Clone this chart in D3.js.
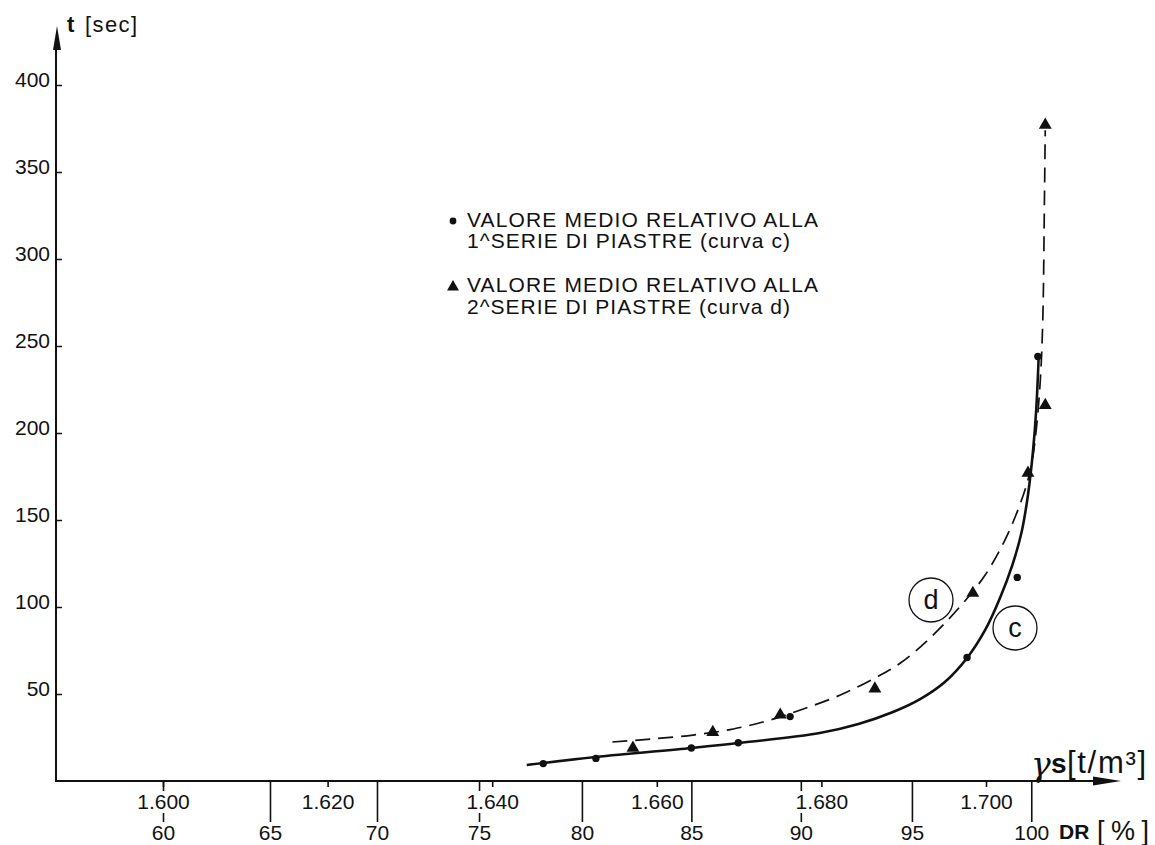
<!DOCTYPE html>
<html>
<head>
<meta charset="utf-8">
<script src="https://cdn.jsdelivr.net/npm/d3@7"></script>
<style>
  html, body { margin: 0; padding: 0; background: #fff; }
  svg { display: block; font-family: "Liberation Sans", Arial, Helvetica, sans-serif; }
</style>
</head>
<body>
<svg id="chart" width="1155" height="845"></svg>
<script>
// Unit weight ticks, γs [t/m³]
const gammaTicks = [1.600, 1.620, 1.640, 1.660, 1.680, 1.700];
// Relative density ticks DR [%] and the unit weight each one corresponds to
const drTicks = [60, 65, 70, 75, 80, 85, 90, 95, 100];
const drGamma = [1.6000, 1.6130, 1.6260, 1.6384, 1.6509, 1.6642, 1.6775, 1.6910, 1.7055];
// Time ticks, t [sec]
const tTicks = [50, 100, 150, 200, 250, 300, 350, 400];

// Mean values, 1st series of plates (curve c)
const cGamma = [1.6462, 1.6526, 1.6642, 1.6699, 1.6762, 1.6977, 1.7038, 1.7063];
const cTime  = [10, 13, 19, 22, 37, 71, 117, 244];
// Mean values, 2nd series of plates (curve d)
const dGamma = [1.6571, 1.6668, 1.6750, 1.6865, 1.6984, 1.7051, 1.7072, 1.7072];
const dTime  = [19, 28, 38, 53, 108, 177, 216, 377];

// Fitted curve c (solid)
const cCurveGamma = [1.6442, 1.6526, 1.6642, 1.6699, 1.6798, 1.6845, 1.6887, 1.6920, 1.6950, 1.6977, 1.6999, 1.7017, 1.7032, 1.7043, 1.7051, 1.7057, 1.7061, 1.7064];
const cCurveTime  = [9.2, 13.8, 19, 21.8, 27.6, 32.8, 39.7, 47.1, 56.9, 70.7, 86.8, 105.2, 124.1, 142.5, 164.4, 189.1, 213.2, 243.7];
// Fitted curve d (dashed)
const dCurveGamma = [1.6546, 1.6592, 1.6644, 1.6693, 1.6738, 1.6778, 1.6823, 1.6865, 1.6896, 1.6932, 1.6968, 1.6999, 1.7023, 1.7041, 1.7054, 1.7061, 1.7066, 1.7069, 1.7071, 1.7072];
const dCurveTime  = [22.4, 24.1, 26.4, 29.9, 35.1, 41.4, 49.4, 59.2, 67.8, 82.2, 100, 118.4, 138.5, 158.6, 178.7, 201.7, 230.5, 264.9, 333.9, 374];

const svg = d3.select("#chart");

const X0 = 56, Y0 = 781;
const x = d3.scaleLinear().domain([1.6, 1.7]).range([163, 986]);
const y = d3.scaleLinear().domain([0, 400]).range([Y0, 85]);
const dr = d3.scaleLinear().domain(drTicks).range(drGamma.map(x));

const ink = "#111";

// DR [%] scale below the unit weight scale
const drAxis = svg.append("g")
  .attr("transform", `translate(0,${Y0})`)
  .call(d3.axisBottom(dr).tickValues(drTicks).tickSize(41).tickFormat(d3.format("d")));
drAxis.select(".domain").remove();
drAxis.selectAll(".tick line").attr("stroke", ink).attr("stroke-width", 1.6);
drAxis.selectAll(".tick text")
  .attr("y", 59).attr("dy", 0)
  .attr("fill", ink).attr("font-size", 21)
  .attr("font-family", "Liberation Sans, Arial, sans-serif");

// Unit weight scale
const gAxis = svg.append("g")
  .attr("transform", `translate(0,${Y0})`)
  .call(d3.axisBottom(x).tickValues(gammaTicks).tickSize(6).tickFormat(d3.format(".3f")));
gAxis.select(".domain").remove();
gAxis.selectAll(".tick line").attr("stroke", ink).attr("stroke-width", 1.6);
gAxis.selectAll(".tick text")
  .attr("y", 28).attr("dy", 0)
  .attr("fill", ink).attr("font-size", 21)
  .attr("font-family", "Liberation Sans, Arial, sans-serif");
// white backing so the DR ticks break around the labels
gAxis.selectAll(".tick").each(function () {
  const t = d3.select(this).select("text");
  const b = t.node().getBBox();
  d3.select(this).insert("rect", "text")
    .attr("x", b.x - 1).attr("y", b.y + 1)
    .attr("width", b.width + 2).attr("height", b.height - 1)
    .attr("fill", "#fff");
});

// Time axis ticks
const yAxis = svg.append("g")
  .attr("transform", `translate(${X0},0)`)
  .call(d3.axisLeft(y).tickValues(tTicks).tickSize(-6).tickPadding(6));
yAxis.select(".domain").remove();
yAxis.selectAll(".tick line").attr("stroke", ink).attr("stroke-width", 1.5);
yAxis.selectAll(".tick text")
  .attr("dy", "0.08em")
  .attr("fill", ink).attr("font-size", 21)
  .attr("font-family", "Liberation Sans, Arial, sans-serif");

// Axis lines with arrow heads
svg.append("line").attr("x1", X0).attr("y1", Y0 + 1).attr("x2", X0).attr("y2", 40)
  .attr("stroke", ink).attr("stroke-width", 2);
svg.append("path").attr("d", `M${X0 + 1},26 L${X0 + 5},50 L${X0 - 3},50 Z`).attr("fill", ink);
svg.append("line").attr("x1", X0 - 1).attr("y1", Y0).attr("x2", 1100).attr("y2", Y0)
  .attr("stroke", ink).attr("stroke-width", 2);
svg.append("path").attr("d", `M1093,${Y0 - 4.5} L1121,${Y0} L1093,${Y0 + 4.5} Z`).attr("fill", ink);

// Axis titles
const tTitle = svg.append("text").attr("x", 67).attr("y", 32).attr("fill", ink);
tTitle.append("tspan").attr("font-size", 22).attr("font-weight", "bold").text("t");
tTitle.append("tspan").attr("x", 85).attr("font-size", 22).attr("textLength", 52).attr("lengthAdjust", "spacing").text("[sec]");

svg.append("text").attr("x", 1031).attr("y", 776).attr("fill", ink)
  .attr("font-size", 33).attr("font-family", "DejaVu Serif, serif").attr("font-style", "italic").text("γ");
svg.append("text").attr("x", 1051).attr("y", 773).attr("fill", ink)
  .attr("font-size", 28).attr("font-weight", "bold").text("s");
svg.append("text").attr("x", 1067).attr("y", 773).attr("fill", ink)
  .attr("font-size", 31).attr("textLength", 79).attr("lengthAdjust", "spacing").text("[t/m³]");

svg.append("text").attr("x", 1059).attr("y", 839).attr("fill", ink)
  .attr("font-size", 21).attr("font-weight", "bold").text("DR");
svg.append("text").attr("x", 1097).attr("y", 840).attr("fill", ink)
  .attr("font-size", 27).attr("textLength", 52).attr("lengthAdjust", "spacing").text("[ % ]");

// Curves
const line = d3.line().x(d => x(d[0])).y(d => y(d[1])).curve(d3.curveCatmullRom.alpha(0.5));
svg.append("path")
  .datum(d3.zip(cCurveGamma, cCurveTime))
  .attr("d", line).attr("fill", "none").attr("stroke", ink).attr("stroke-width", 2.6);
svg.append("path")
  .datum(d3.zip(dCurveGamma, dCurveTime))
  .attr("d", line).attr("fill", "none").attr("stroke", ink).attr("stroke-width", 1.7)
  .attr("stroke-dasharray", "15,8");

// Markers
svg.append("g").selectAll("circle")
  .data(d3.zip(cGamma, cTime)).join("circle")
  .attr("cx", d => x(d[0])).attr("cy", d => y(d[1])).attr("r", 3.7).attr("fill", ink);
const tri = d3.symbol().type(d3.symbolTriangle).size(72);
svg.append("g").selectAll("path")
  .data(d3.zip(dGamma, dTime)).join("path")
  .attr("d", tri).attr("transform", d => `translate(${x(d[0])},${y(d[1])})`).attr("fill", ink);

// Curve labels
const tags = [["d", 931, 600], ["c", 1015, 628]];
tags.forEach(([s, cx, cy]) => {
  svg.append("circle").attr("cx", cx).attr("cy", cy).attr("r", 22)
    .attr("fill", "#fff").attr("stroke", ink).attr("stroke-width", 1.3);
  svg.append("text").attr("x", cx).attr("y", cy + 9).attr("text-anchor", "middle")
    .attr("font-size", 27).attr("fill", ink).text(s);
});

// Legend
const legend = svg.append("g").attr("fill", ink).attr("font-size", 21);
legend.append("circle").attr("cx", 453).attr("cy", 221).attr("r", 3.4);
legend.append("path").attr("d", d3.symbol().type(d3.symbolTriangle).size(62)).attr("transform", "translate(453,287)");
const legendLines = [
  ["VALORE MEDIO RELATIVO ALLA", 227, 351],
  ["1^SERIE DI PIASTRE (curva c)", 248, 323],
  ["VALORE MEDIO RELATIVO ALLA", 292, 351],
  ["2^SERIE DI PIASTRE (curva d)", 314, 323]
];
legendLines.forEach(([txt, by, w]) => {
  legend.append("text").attr("x", 467).attr("y", by)
    .attr("textLength", w).attr("lengthAdjust", "spacing").text(txt);
});
</script>
</body>
</html>
